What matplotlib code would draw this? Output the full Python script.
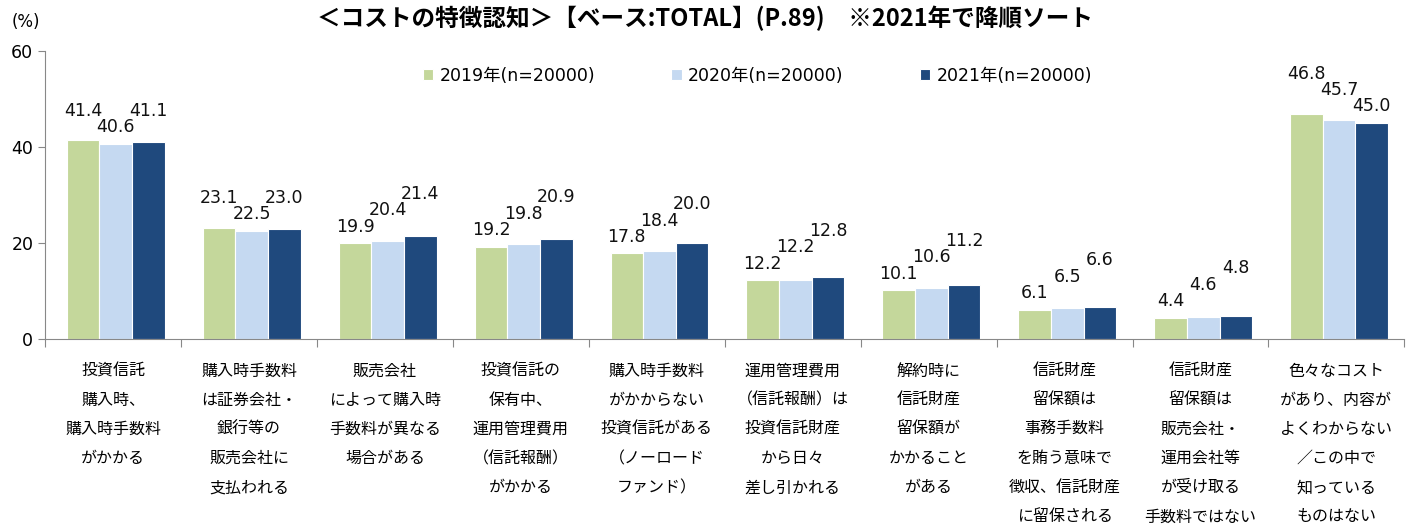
import numpy as np
import matplotlib
matplotlib.use("Agg")
import matplotlib.pyplot as plt

plt.rcParams['font.family'] = ['Noto Sans CJK JP', 'DejaVu Sans']
num_font = ['DejaVu Sans', 'Noto Sans CJK JP']

# data
categories = [
    "投資信託\n購入時、\n購入時手数料\nがかかる",
    "購入時手数料\nは証券会社・\n銀行等の\n販売会社に\n支払われる",
    "販売会社\nによって購入時\n手数料が異なる\n場合がある",
    "投資信託の\n保有中、\n運用管理費用\n（信託報酬）\nがかかる",
    "購入時手数料\nがかからない\n投資信託がある\n（ノーロード\nファンド）",
    "運用管理費用\n（信託報酬）は\n投資信託財産\nから日々\n差し引かれる",
    "解約時に\n信託財産\n留保額が\nかかること\nがある",
    "信託財産\n留保額は\n事務手数料\nを賄う意味で\n徴収、信託財産\nに留保される",
    "信託財産\n留保額は\n販売会社・\n運用会社等\nが受け取る\n手数料ではない",
    "色々なコスト\nがあり、内容が\nよくわからない\n／この中で\n知っている\nものはない",
]
series_names = ["2019年(n=20000)", "2020年(n=20000)", "2021年(n=20000)"]
v2019 = [41.4, 23.1, 19.9, 19.2, 17.8, 12.2, 10.1, 6.1, 4.4, 46.8]
v2020 = [40.6, 22.5, 20.4, 19.8, 18.4, 12.2, 10.6, 6.5, 4.6, 45.7]
v2021 = [41.1, 23.0, 21.4, 20.9, 20.0, 12.8, 11.2, 6.6, 4.8, 45.0]
colors = ["#C4D79B", "#C5D9F1", "#1F497D"]

fig = plt.figure(figsize=(14.1, 5.27), dpi=100)
ax = fig.add_axes([0.032, 0.357, 0.964, 0.546])

x = np.arange(len(categories))
w = 0.24
series = [v2019, v2020, v2021]
for i, (vals, name, c) in enumerate(zip(series, series_names, colors)):
    ax.bar(x + (i - 1) * w + 0.02, vals, w, color=c, edgecolor="white",
           linewidth=0.8, label=name)

# value labels: stack neighbours so they don't collide (like excel does)
gap, step = 1.6, 3.4
for g in range(len(categories)):
    vals = [s[g] for s in series]
    ys = {}
    for i in sorted(range(3), key=lambda k: vals[k]):
        y = vals[i] + gap
        for j in (i - 1, i + 1):
            if j in ys and abs(y - ys[j]) < step:
                y = ys[j] + step
        ys[i] = y
    for i in range(3):
        ax.text(g + (i - 1) * w + 0.02, ys[i], f"{vals[i]:.1f}", ha="center",
                va="bottom", fontsize=12.5, color="#111111", family=num_font)

ax.set_xlim(-0.5, len(categories) - 0.5)
ax.set_ylim(0, 60)
ax.set_yticks([0, 20, 40, 60])
ax.tick_params(axis="y", labelsize=12.5, length=5, color="#888888")
for t in ax.get_yticklabels():
    t.set_family(num_font)
ax.set_xticks(np.arange(-0.5, len(categories), 1.0))
ax.set_xticklabels([])
ax.tick_params(axis="x", length=6, color="#888888")
for s in ["top", "right"]:
    ax.spines[s].set_visible(False)
ax.spines["left"].set_color("#888888")
ax.spines["bottom"].set_color("#888888")

for xi, lab in zip(x, categories):
    ax.text(xi, -5.0, lab, ha="center", va="top", fontsize=11.5, linespacing=1.93)

ax.legend(loc="upper center", bbox_to_anchor=(0.524, 1.0), ncol=3, frameon=False,
          prop={'family': num_font, 'size': 12.5}, handlelength=0.6, handleheight=0.6,
          handletextpad=0.35, columnspacing=4.4)

fig.text(0.008, 0.975, "(%)", fontsize=12, va="top", family=num_font)
fig.text(0.5, 0.99, "＜コストの特徴認知＞【ベース:TOTAL】(P.89)　※2021年で降順ソート",
         ha="center", va="top", fontsize=17, fontweight="bold")

fig.savefig("out.png", dpi=100)
